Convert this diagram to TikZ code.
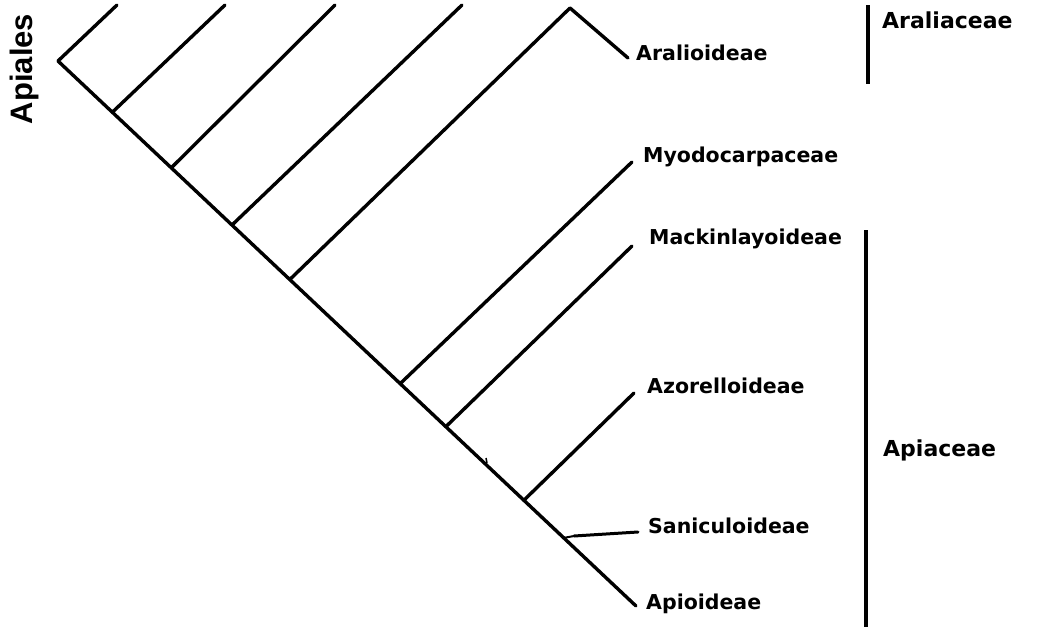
\documentclass[tikz,border=0pt]{standalone}
\usepackage{fontspec}
\setmainfont{DejaVu Sans}
\newfontfamily\orderfont{Liberation Sans}
\usetikzlibrary{calc}
\begin{document}
\begin{tikzpicture}[x=1pt,y=-1pt,
  branch/.style={line width=3.4pt,line cap=round,line join=round},
  bar/.style={line width=4pt},
  taxon/.style={anchor=west,inner sep=0pt,font=\bfseries\fontsize{20.5}{24}\selectfont},
  family/.style={anchor=west,inner sep=0pt,font=\bfseries\fontsize{22}{26}\selectfont}]
\useasboundingbox (0,0) rectangle (1038,630);
% backbone end points
\coordinate (root) at (58,61);
\coordinate (eApi) at (636,606);
% junctions along the backbone
\coordinate (n1) at ($(root)!0.094!(eApi)$);
\coordinate (n2) at ($(root)!0.196!(eApi)$);
\coordinate (n3) at ($(root)!0.301!(eApi)$);
\coordinate (n4) at ($(root)!0.401!(eApi)$);
\coordinate (n5) at ($(root)!0.592!(eApi)$);
\coordinate (n6) at ($(root)!0.671!(eApi)$);
\coordinate (n7) at ($(root)!0.806!(eApi)$);
\coordinate (n8) at ($(root)!0.875!(eApi)$);
\coordinate (ara) at (570,8);
% tips running off the top
\coordinate (t0) at (117,5);
\coordinate (t1) at (225,5);
\coordinate (t2) at (335,5);
\coordinate (t3) at (462,5);
% leaf ends
\coordinate (eAral) at (628,58);
\coordinate (eMyo) at (632,162);
\coordinate (eMack) at (632,246);
\coordinate (eAzo) at (634,393);
\coordinate (sSan) at (574,536);
\coordinate (eSan) at (638,532);
% labels
\node[taxon] (Aral) at (636,53) {Aralioideae};
\node[taxon] (Myo) at (643,157) {Myodocarpaceae};
\node[taxon] (Mack) at (649,239) {Mackinlayoideae};
\node[taxon] (Azo) at (647,386) {Azorelloideae};
\node[taxon] (San) at (648,526) {Saniculoideae};
\node[taxon] (Api) at (646,604) {Apioideae};
\node[family] (Araliaceae) at (882,20) {Araliaceae};
\node[family] (Apiaceae) at (883,450) {Apiaceae};
\node[inner sep=0pt,rotate=90,font=\orderfont\bfseries\fontsize{31}{34}\selectfont] (Apiales) at (24,69) {Apiales};
% backbone
\draw[branch] (root) -- (eApi);
% side branches
\draw[branch] (root) -- (t0);
\draw[branch] (n1) -- (t1);
\draw[branch] (n2) -- (t2);
\draw[branch] (n3) -- (t3);
\draw[branch] (n4) -- (ara) -- (eAral);
\draw[branch] (n5) -- (eMyo);
\draw[branch] (n6) -- (eMack);
\draw[branch] (n7) -- (eAzo);
\draw[branch,line width=3pt] (sSan) -- (eSan);
\draw[line width=2pt] (n8) -- (sSan);
\draw[line width=1.5pt] (486,458) -- (487,463);
% family brackets
\coordinate (b1a) at (868,5);
\coordinate (b1b) at (868,84);
\coordinate (b2a) at (866,230);
\coordinate (b2b) at (866,627);
\draw[bar] (b1a) -- (b1b);
\draw[bar] (b2a) -- (b2b);
\end{tikzpicture}
\end{document}
